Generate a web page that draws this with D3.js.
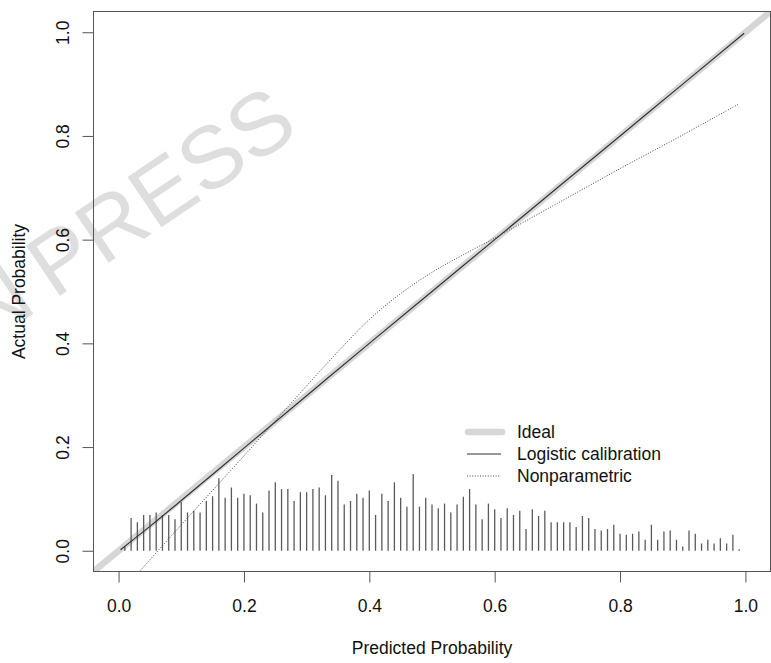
<!DOCTYPE html>
<html>
<head>
<meta charset="utf-8">
<script src="https://cdn.jsdelivr.net/npm/d3@7"></script>
<style>
  body { margin: 0; background: #fff; }
  svg { display: block; font-family: "Liberation Sans", Arial, sans-serif; }
</style>
</head>
<body>
<svg id="chart" width="771" height="663"></svg>
<script>
// calibration plot: ideal line, logistic calibration, nonparametric (lowess) curve, spike histogram

// data
const tickValues = [0, 0.2, 0.4, 0.6, 0.8, 1.0]

const logisticX = [0.003, 0.05, 0.1, 0.2, 0.3, 0.4, 0.5, 0.6, 0.7, 0.8, 0.9, 0.998]
const logisticY = [0.002, 0.047, 0.097, 0.198, 0.299, 0.4, 0.5, 0.6, 0.7, 0.8, 0.9, 0.998]

const nonparX = [0.02, 0.1, 0.2, 0.3, 0.35, 0.4, 0.45, 0.5, 0.55, 0.6, 0.7, 0.8, 0.9, 0.99]
const nonparY = [-0.058, 0.05, 0.183, 0.318, 0.384, 0.446, 0.496, 0.537, 0.571, 0.603, 0.670, 0.737, 0.802, 0.862]

const spikeX = [
  0.01, 0.02, 0.03, 0.04, 0.05, 0.06, 0.07, 0.08, 0.09, 0.10,
  0.11, 0.12, 0.13, 0.14, 0.15, 0.16, 0.17, 0.18, 0.19, 0.20,
  0.21, 0.22, 0.23, 0.24, 0.25, 0.26, 0.27, 0.28, 0.29, 0.30,
  0.31, 0.32, 0.33, 0.34, 0.35, 0.36, 0.37, 0.38, 0.39, 0.40,
  0.41, 0.42, 0.43, 0.44, 0.45, 0.46, 0.47, 0.48, 0.49, 0.50,
  0.51, 0.52, 0.53, 0.54, 0.55, 0.56, 0.57, 0.58, 0.59, 0.60,
  0.61, 0.62, 0.63, 0.64, 0.65, 0.66, 0.67, 0.68, 0.69, 0.70,
  0.71, 0.72, 0.73, 0.74, 0.75, 0.76, 0.77, 0.78, 0.79, 0.80,
  0.81, 0.82, 0.83, 0.84, 0.85, 0.86, 0.87, 0.88, 0.89, 0.90,
  0.91, 0.92, 0.93, 0.94, 0.95, 0.96, 0.97, 0.98, 0.99
]
const spikeH = [
  0.008, 0.063, 0.055, 0.069, 0.069, 0.074, 0.069, 0.069, 0.061, 0.094,
  0.074, 0.077, 0.074, 0.096, 0.105, 0.140, 0.102, 0.122, 0.102, 0.110,
  0.107, 0.091, 0.074, 0.116, 0.132, 0.119, 0.119, 0.096, 0.113, 0.113,
  0.119, 0.122, 0.107, 0.146, 0.135, 0.089, 0.096, 0.110, 0.102, 0.116,
  0.069, 0.110, 0.096, 0.132, 0.102, 0.085, 0.148, 0.085, 0.102, 0.089,
  0.082, 0.091, 0.074, 0.089, 0.104, 0.119, 0.089, 0.061, 0.091, 0.080,
  0.063, 0.082, 0.069, 0.077, 0.042, 0.080, 0.067, 0.077, 0.055, 0.055,
  0.055, 0.055, 0.046, 0.067, 0.063, 0.042, 0.039, 0.042, 0.050, 0.033,
  0.031, 0.033, 0.037, 0.021, 0.050, 0.021, 0.037, 0.039, 0.021, 0.008,
  0.039, 0.033, 0.014, 0.021, 0.014, 0.024, 0.014, 0.031, 0.003
]

const legendLabels = ['Ideal', 'Logistic calibration', 'Nonparametric']

// layout
const svg = d3.select('#chart')
const plot = { left: 93.5, right: 770.5, top: 11.5, bottom: 571.5 }
const fontSize = 17.5

const x = d3.scaleLinear().domain([-0.04, 1.04]).range([plot.left, plot.right])
const y = d3.scaleLinear().domain([-0.04, 1.04]).range([plot.bottom, plot.top])

// watermark, drawn first so everything else sits on top
const wm = svg.append('g')
  .attr('transform', 'translate(160,190) rotate(-34)')
  .style('fill', '#dedede')
  .style('font-size', '88px')
let press = wm.append('text')
  .attr('text-anchor', 'middle')
  .attr('dy', '0.36em')
  .text('PRESS')
let pressW = press.node().getComputedTextLength()
wm.append('text')
  .attr('text-anchor', 'end')
  .attr('x', -pressW / 2 - 18)
  .attr('dy', '0.36em')
  .text('IN')

svg.append('clipPath').attr('id', 'clip')
  .append('rect')
  .attr('x', plot.left).attr('y', plot.top)
  .attr('width', plot.right - plot.left).attr('height', plot.bottom - plot.top)

const marks = svg.append('g').attr('clip-path', 'url(#clip)')

// ideal line
marks.append('line')
  .attr('x1', x(-0.04)).attr('y1', y(-0.04))
  .attr('x2', x(1.04)).attr('y2', y(1.04))
  .style('stroke', '#d6d6d6')
  .style('stroke-width', 6.5)
  .style('stroke-linecap', 'round')

// spike histogram
marks.selectAll('line.spike')
  .data(spikeX.map((d, i) => ({ p: d, h: spikeH[i] })))
  .join('line')
  .attr('class', 'spike')
  .attr('x1', d => x(d.p)).attr('x2', d => x(d.p))
  .attr('y1', y(0)).attr('y2', d => y(d.h))
  .style('stroke', '#5a5a5a')
  .style('stroke-width', 1.3)

// logistic calibration
let line = d3.line().x(d => x(d[0])).y(d => y(d[1])).curve(d3.curveMonotoneX)
marks.append('path')
  .datum(logisticX.map((d, i) => [d, logisticY[i]]))
  .attr('d', line)
  .style('fill', 'none')
  .style('stroke', '#333')
  .style('stroke-width', 1.2)

// nonparametric
let smooth = d3.line().x(d => x(d[0])).y(d => y(d[1])).curve(d3.curveCatmullRom.alpha(0.5))
marks.append('path')
  .datum(nonparX.map((d, i) => [d, nonparY[i]]))
  .attr('d', smooth)
  .style('fill', 'none')
  .style('stroke', '#444')
  .style('stroke-width', 1)
  .style('stroke-dasharray', '1,1.6')

// box
svg.append('rect')
  .attr('x', plot.left).attr('y', plot.top)
  .attr('width', plot.right - plot.left).attr('height', plot.bottom - plot.top)
  .style('fill', 'none')
  .style('stroke', '#555')

// axes
let xAxis = svg.append('g')
  .attr('transform', `translate(0,${plot.bottom})`)
  .call(d3.axisBottom(x).tickValues(tickValues).tickFormat(d3.format('.1f')).tickSize(11).tickPadding(17))
let yAxis = svg.append('g')
  .attr('transform', `translate(${plot.left},0)`)
  .call(d3.axisLeft(y).tickValues(tickValues).tickFormat(d3.format('.1f')).tickSize(11))

svg.selectAll('.domain').remove()
svg.selectAll('.tick line').style('stroke', '#555')
svg.selectAll('.tick text')
  .style('font-family', '"Liberation Sans", Arial, sans-serif')
  .style('font-size', fontSize + 'px')
  .style('fill', '#111')
yAxis.selectAll('.tick text')
  .attr('x', null)
  .attr('dy', '0.35em')
  .attr('text-anchor', 'middle')
  .attr('transform', 'translate(-31,0) rotate(-90)')

// axis titles
svg.append('text')
  .attr('x', (plot.left + plot.right) / 2)
  .attr('y', 648)
  .attr('dy', '0.35em')
  .attr('text-anchor', 'middle')
  .style('font-size', fontSize + 'px')
  .style('fill', '#111')
  .text('Predicted Probability')
svg.append('text')
  .attr('transform', `translate(19,${(plot.top + plot.bottom) / 2}) rotate(-90)`)
  .attr('dy', '0.35em')
  .attr('text-anchor', 'middle')
  .style('font-size', fontSize + 'px')
  .style('fill', '#111')
  .text('Actual Probability')

// legend
const legendStyles = [
  { stroke: '#d6d6d6', width: 6.5, dash: null },
  { stroke: '#333', width: 1.2, dash: null },
  { stroke: '#444', width: 1, dash: '1,1.6' }
]
let legend = svg.selectAll('g.legend')
  .data(legendLabels)
  .join('g')
  .attr('class', 'legend')
  .attr('transform', (d, i) => `translate(0,${432 + i * 22})`)
legend.append('line')
  .attr('x1', (d, i) => i === 0 ? 468 : 467)
  .attr('x2', (d, i) => i === 0 ? 502 : 501)
  .style('stroke', (d, i) => legendStyles[i].stroke)
  .style('stroke-width', (d, i) => legendStyles[i].width)
  .style('stroke-linecap', (d, i) => i === 0 ? 'round' : 'butt')
  .style('stroke-dasharray', (d, i) => legendStyles[i].dash)
legend.append('text')
  .attr('x', 517)
  .attr('dy', '0.35em')
  .style('font-size', fontSize + 'px')
  .style('fill', '#111')
  .text(d => d)
</script>
</body>
</html>
